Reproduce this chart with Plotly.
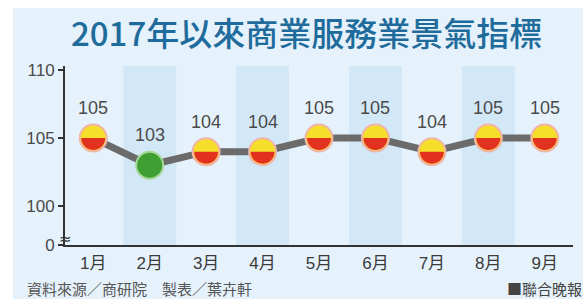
import plotly.graph_objects as go

# ---- data ----
months = ["1月", "2月", "3月", "4月", "5月", "6月", "7月", "8月", "9月"]
values = [105, 103, 104, 104, 105, 105, 104, 105, 105]
top_colors = ["#f6df2b", "#3f9f33", "#f6df2b", "#f6df2b", "#f6df2b", "#f6df2b", "#f6df2b", "#f6df2b", "#f6df2b"]
bottom_colors = ["#e2321f", "#3f9f33", "#e2321f", "#e2321f", "#e2321f", "#e2321f", "#e2321f", "#e2321f", "#e2321f"]
edge_colors = ["#f0b4a8", "#a6d898", "#f0b4a8", "#f0b4a8", "#f0b4a8", "#f0b4a8", "#f0b4a8", "#f0b4a8", "#f0b4a8"]
shaded_months = ["2月", "4月", "6月", "8月"]
y_tick_vals = [97.13, 100, 105, 110]
y_tick_text = ["0", "100", "105", "110"]
title_text = "2017年以來商業服務業景氣指標"
source_text = "資料來源／商研院　製表／葉卉軒"
brand_text = "■聯合晚報"

xs = list(range(1, len(months) + 1))

# layout geometry helpers (pixels -> paper)
L, R, T, B = 65, 10, 66, 54
W, H = 583, 299
PW, PH = W - L - R, H - T - B


def xp(px):
    return (px - L) / PW


def yp(py):
    return (H - B - py) / PH


fig = go.Figure()

# connecting line
fig.add_trace(go.Scatter(
    x=xs, y=values, mode="lines",
    line=dict(color="#6b6b6b", width=7),
    hoverinfo="skip", showlegend=False,
))
# markers (top colour), bottom half added as pixel-sized shapes
fig.add_trace(go.Scatter(
    x=xs, y=values, mode="markers",
    marker=dict(size=27, color=top_colors, line=dict(color=edge_colors, width=2)),
    showlegend=False,
))

shapes = []
# light blue background panel
shapes.append(dict(type="rect", xref="paper", yref="paper",
                   x0=xp(13), x1=xp(W + 5), y0=yp(H + 5), y1=yp(8),
                   fillcolor="#e6f2fb", line=dict(width=0), layer="below"))
# shaded month columns
for m in shaded_months:
    i = months.index(m) + 1
    shapes.append(dict(type="rect", xref="x", yref="paper",
                       x0=i - 0.47, x1=i + 0.47, y0=0, y1=1,
                       fillcolor="#d3e8f7", line=dict(width=0), layer="below"))
# bottom halves of markers
r = 12
k = r * 0.5523
half_path = (f"M {-r},0 C {-r},{-k} {-k},{-r} 0,{-r} "
             f"C {k},{-r} {r},{-k} {r},0 Z")
for x, v, c in zip(xs, values, bottom_colors):
    shapes.append(dict(type="path", xref="x", yref="y",
                       xsizemode="pixel", ysizemode="pixel",
                       xanchor=x, yanchor=v, path=half_path,
                       fillcolor=c, line=dict(width=0), layer="above"))

annotations = []
# value labels
for x, v in zip(xs, values):
    annotations.append(dict(x=x, y=v, xref="x", yref="y", text=str(v),
                            showarrow=False, yshift=30,
                            font=dict(family="Liberation Sans, Arial", size=18, color="#4a4a4a")))
# title
annotations.append(dict(x=xp(306), y=yp(32), xref="paper", yref="paper",
                        text=title_text, showarrow=False, xanchor="center", yanchor="middle",
                        font=dict(family="Noto Sans CJK TC", size=33, color="#1f6c9c", weight=500)))
# source
annotations.append(dict(x=xp(25), y=yp(288), xref="paper", yref="paper",
                        text=source_text, showarrow=False, xanchor="left", yanchor="middle",
                        font=dict(family="Noto Sans CJK TC", size=15, color="#555555")))
annotations.append(dict(x=xp(505), y=yp(288), xref="paper", yref="paper",
                        text=brand_text, showarrow=False, xanchor="left", yanchor="middle",
                        font=dict(family="Noto Sans CJK TC", size=15, color="#444444")))
# axis break mark
annotations.append(dict(x=0, y=yp(239), xref="paper", yref="paper",
                        text="≈", showarrow=False, xanchor="center", yanchor="middle",
                        font=dict(family="DejaVu Sans", size=15, color="#333333")))

fig.update_layout(
    width=W, height=H,
    margin=dict(l=L, r=R, t=T, b=B),
    paper_bgcolor="white",
    plot_bgcolor="rgba(0,0,0,0)",
    shapes=shapes,
    annotations=annotations,
    showlegend=False,
    xaxis=dict(range=[0.5, 9.5], tickvals=xs, ticktext=months,
               showline=True, linecolor="#333333", linewidth=2,
               showgrid=False, zeroline=False, ticks="",
               ticklabelstandoff=2,
               tickfont=dict(family="Liberation Sans, Noto Sans CJK TC", size=17, color="#3a3a3a")),
    yaxis=dict(range=[97.13, 110.3], tickvals=y_tick_vals, ticktext=y_tick_text,
               showline=True, linecolor="#333333", linewidth=2,
               showgrid=False, zeroline=False, ticks="outside", ticklen=5,
               tickcolor="#333333", tickwidth=2,
               tickfont=dict(family="Liberation Sans, Arial", size=17, color="#4a4a4a")),
)

fig.write_html("out.html", config={"displayModeBar": False},
               post_script="document.body.style.margin='0';document.body.style.overflow='hidden';")
